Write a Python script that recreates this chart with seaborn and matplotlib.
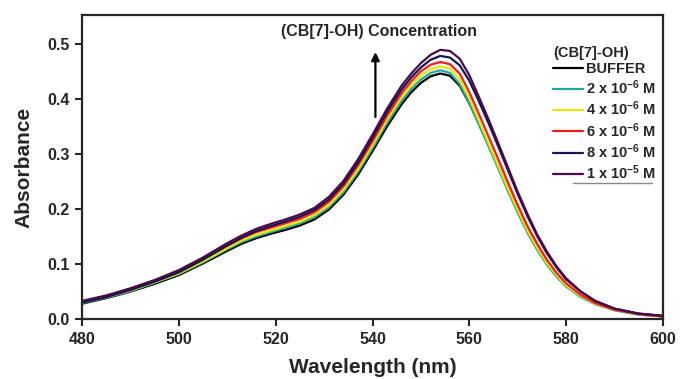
import numpy as np
import pandas as pd
import matplotlib
matplotlib.use("Agg")
import matplotlib.pyplot as plt
import seaborn as sns

# ================= style =================
sns.set_style("ticks")
plt.rcParams['font.family'] = ['Liberation Sans', 'DejaVu Sans']
plt.rcParams['font.weight'] = 'bold'
plt.rcParams['mathtext.fontset'] = 'custom'
plt.rcParams['mathtext.rm'] = 'Liberation Sans:bold'
plt.rcParams['mathtext.bf'] = 'Liberation Sans:bold'
plt.rcParams['mathtext.default'] = 'bf'
# =========================================

# --- data ---
wavelength = [480, 485, 490, 495, 500, 505, 510, 513, 516, 519, 522, 525, 528, 531, 534,
              537, 540, 543, 546, 548, 550, 552, 554, 556, 558, 560, 562, 564, 566, 568,
              570, 572, 574, 576, 578, 580, 583, 586, 590, 595, 600]

buffer_abs = [0.028, 0.038, 0.050, 0.064, 0.080, 0.101, 0.124, 0.137, 0.147, 0.155, 0.162,
              0.170, 0.181, 0.199, 0.226, 0.262, 0.305, 0.350, 0.390, 0.412, 0.429, 0.441,
              0.446, 0.442, 0.424, 0.392, 0.354, 0.316, 0.277, 0.237, 0.198, 0.162, 0.131,
              0.104, 0.081, 0.063, 0.043, 0.029, 0.017, 0.009, 0.005]
c2e6_abs = [0.029, 0.039, 0.051, 0.066, 0.082, 0.103, 0.127, 0.140, 0.150, 0.158, 0.166,
            0.174, 0.185, 0.203, 0.230, 0.267, 0.310, 0.356, 0.396, 0.418, 0.435, 0.447,
            0.452, 0.447, 0.427, 0.393, 0.353, 0.313, 0.273, 0.232, 0.193, 0.157, 0.126,
            0.099, 0.077, 0.059, 0.040, 0.027, 0.016, 0.008, 0.005]
c4e6_abs = [0.030, 0.040, 0.052, 0.067, 0.083, 0.105, 0.129, 0.143, 0.153, 0.161, 0.169,
            0.177, 0.189, 0.207, 0.235, 0.272, 0.316, 0.362, 0.403, 0.425, 0.442, 0.454,
            0.459, 0.455, 0.435, 0.401, 0.360, 0.319, 0.278, 0.237, 0.198, 0.161, 0.130,
            0.102, 0.080, 0.061, 0.042, 0.028, 0.017, 0.009, 0.005]
c6e6_abs = [0.032, 0.042, 0.055, 0.070, 0.087, 0.109, 0.133, 0.147, 0.158, 0.166, 0.174,
            0.182, 0.194, 0.213, 0.241, 0.279, 0.323, 0.369, 0.410, 0.432, 0.450, 0.462,
            0.467, 0.463, 0.446, 0.412, 0.372, 0.331, 0.290, 0.248, 0.207, 0.169, 0.137,
            0.108, 0.084, 0.065, 0.044, 0.029, 0.017, 0.009, 0.005]
c8e6_abs = [0.030, 0.040, 0.053, 0.068, 0.085, 0.108, 0.134, 0.148, 0.160, 0.169, 0.177,
            0.186, 0.198, 0.217, 0.246, 0.284, 0.329, 0.376, 0.417, 0.439, 0.457, 0.471,
            0.478, 0.475, 0.461, 0.433, 0.395, 0.355, 0.313, 0.270, 0.227, 0.187, 0.151,
            0.120, 0.094, 0.072, 0.050, 0.033, 0.019, 0.010, 0.006]
c1e5_abs = [0.033, 0.043, 0.056, 0.071, 0.089, 0.112, 0.138, 0.152, 0.164, 0.173, 0.181,
            0.190, 0.202, 0.222, 0.251, 0.290, 0.335, 0.382, 0.424, 0.446, 0.465, 0.480,
            0.489, 0.487, 0.473, 0.443, 0.403, 0.362, 0.319, 0.275, 0.231, 0.191, 0.154,
            0.123, 0.096, 0.074, 0.050, 0.033, 0.019, 0.010, 0.006]

labels = ['BUFFER', r'2 x 10$^{-6}$ M', r'4 x 10$^{-6}$ M', r'6 x 10$^{-6}$ M',
          r'8 x 10$^{-6}$ M', r'1 x 10$^{-5}$ M']
colors = ['#000000', '#22a8a0', '#e8e800', '#ff1a1a', '#14144e', '#4a0a4a']
series = [buffer_abs, c2e6_abs, c4e6_abs, c6e6_abs, c8e6_abs, c1e5_abs]

df = pd.DataFrame({'Wavelength': wavelength})
for lab, vals in zip(labels, series):
    df[lab] = vals
long_df = df.melt(id_vars='Wavelength', var_name='Sample', value_name='Absorbance')

# --- plot ---
fig = plt.figure(figsize=(6.8, 3.79), dpi=100)
ax = fig.add_axes([0.1206, 0.158, 0.8544, 0.802])

sns.lineplot(data=long_df, x='Wavelength', y='Absorbance', hue='Sample',
             hue_order=labels, palette=colors, linewidth=1.6, ax=ax)

ax.set_xlim(480, 600)
ax.set_ylim(0, 0.552)
ax.set_xticks([480, 500, 520, 540, 560, 580, 600])
ax.set_yticks([0.0, 0.1, 0.2, 0.3, 0.4, 0.5])
ax.set_yticklabels(['0.0', '0.1', '0.2', '0.3', '0.4', '0.5'])
ax.tick_params(direction='out', length=5, width=1.5, labelsize=11.5, pad=4)
for sp in ax.spines.values():
    sp.set_linewidth(1.6)
    sp.set_visible(True)

ax.set_xlabel('Wavelength (nm)', fontsize=15, fontweight='bold', labelpad=8)
ax.set_ylabel('Absorbance', fontsize=15, fontweight='bold', labelpad=10)

# arrow + annotation
ax.annotate('', xy=(540.6, 0.49), xytext=(540.6, 0.362),
            arrowprops=dict(arrowstyle='-|>', color='black', lw=1.6, mutation_scale=12))
ax.text(521.2, 0.523, '(CB[7]-OH) Concentration', fontsize=11.5, fontweight='bold',
        va='center', ha='left')

leg = ax.legend(title='(CB[7]-OH)', loc='upper left', bbox_to_anchor=(0.811, 0.899),
                frameon=False, fontsize=10.5, title_fontsize=10.5, borderpad=0,
                borderaxespad=0, handlelength=2.05, handletextpad=0.2, labelspacing=0.17)
leg.get_title().set_fontweight('bold')
leg._legend_box.align = 'left'
for line in leg.get_lines():
    line.set_linewidth(1.6)

# thin grey rule under the legend
ax.plot([0.845, 0.981], [0.449, 0.449], color='#8a8a8a', lw=1.0,
        transform=ax.transAxes, clip_on=False)

fig.savefig('out.png', dpi=100)
